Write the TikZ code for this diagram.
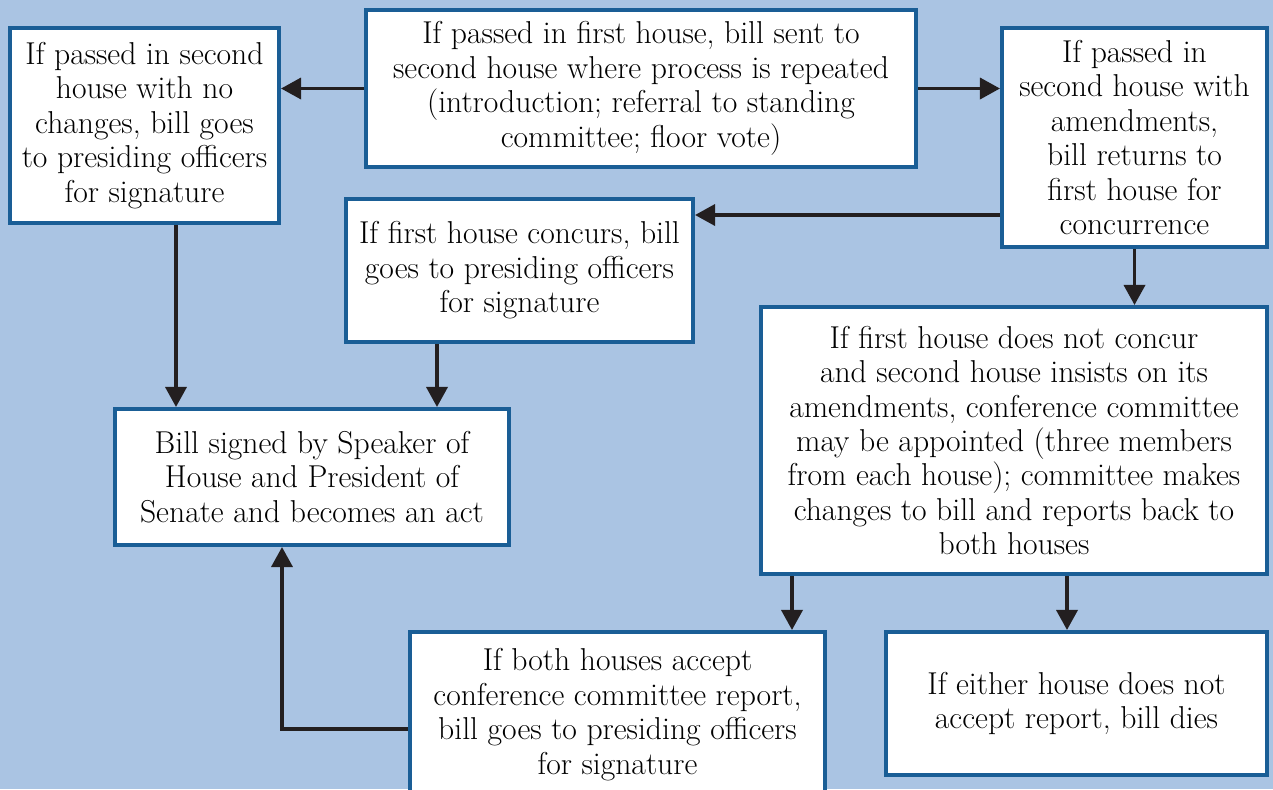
\documentclass[tikz,border=0pt]{standalone}
\usetikzlibrary{arrows.meta,calc}
\definecolor{bgblue}{HTML}{AAC4E3}
\definecolor{edgeblue}{HTML}{1A5E96}
\definecolor{arrowgray}{HTML}{231F20}
\tikzset{
  box/.style={draw=edgeblue,line width=2.3pt,fill=white,align=center,inner sep=0pt,
    font=\fontsize{18}{19.6}\selectfont},
  arr/.style={draw=arrowgray,line width=2pt,-{Triangle[length=0.4cm,width=0.42cm]}}
}
\begin{document}
\begin{tikzpicture}
			\fill[bgblue] (0,0) rectangle (25.46,-15.78);
			\useasboundingbox (0,0) rectangle (25.46,-15.78);
			\node [box,minimum width=11cm,minimum height=3.14cm] (first) at (12.82,-1.77) {If passed in first house, bill sent to\\second house where process is repeated\\(introduction; referral to standing\\committee; floor vote)};
			\node [box,minimum width=5.38cm,minimum height=3.9cm] (nochange) at (2.89,-2.51) {If passed in second\\house with no\\changes, bill goes\\to presiding officers\\for signature};
			\node [box,minimum width=5.3cm,minimum height=4.38cm] (amend) at (22.69,-2.75) {If passed in\\second house with\\amendments,\\bill returns to\\first house for\\concurrence};
			\node [box,minimum width=6.94cm,minimum height=2.86cm] (concur) at (10.39,-5.41) {If first house concurs, bill\\goes to presiding officers\\for signature};
			\node [box,minimum width=7.88cm,minimum height=2.72cm] (act) at (6.24,-9.54) {Bill signed by Speaker of\\House and President of\\Senate and becomes an act};
			\node [box,minimum width=10.12cm,minimum height=5.34cm] (conf) at (20.28,-8.81) {If first house does not concur\\and second house insists on its\\amendments, conference committee\\may be appointed (three members\\from each house); committee makes\\changes to bill and reports back to\\both houses};
			\node [box,minimum width=8.3cm,minimum height=3.3cm] (accept) at (12.35,-14.29) {If both houses accept\\conference committee report,\\bill goes to presiding officers\\for signature};
			\node [box,minimum width=7.62cm,minimum height=2.86cm] (dies) at (21.53,-14.07) {If either house does not\\accept report, bill dies};
			% connectors
			\coordinate (back) at (20,-4.3);
			\draw[arr] (first.west) -- (first.west -| nochange.east);
			\draw[arr] (first.east) -- (first.east -| amend.west);
			\draw[arr] (back -| amend.west) -- (back -| concur.east);
			\draw[arr] ([xshift=0.63cm]nochange.south) -- ([xshift=0.63cm]nochange.south |- act.north);
			\draw[arr] ([xshift=-1.65cm]concur.south) -- ([xshift=-1.65cm]concur.south |- act.north);
			\draw[arr] (amend.south) -- (amend.south |- conf.north);
			\draw[arr] ([xshift=-4.44cm]conf.south) -- ([xshift=-4.44cm]conf.south |- accept.north);
			\draw[arr] ([xshift=1.06cm]conf.south) -- ([xshift=1.06cm]conf.south |- dies.north);
			\draw[arr] ([yshift=-0.29cm]accept.west) -| ([xshift=-0.6cm]act.south);
\end{tikzpicture}
\end{document}
